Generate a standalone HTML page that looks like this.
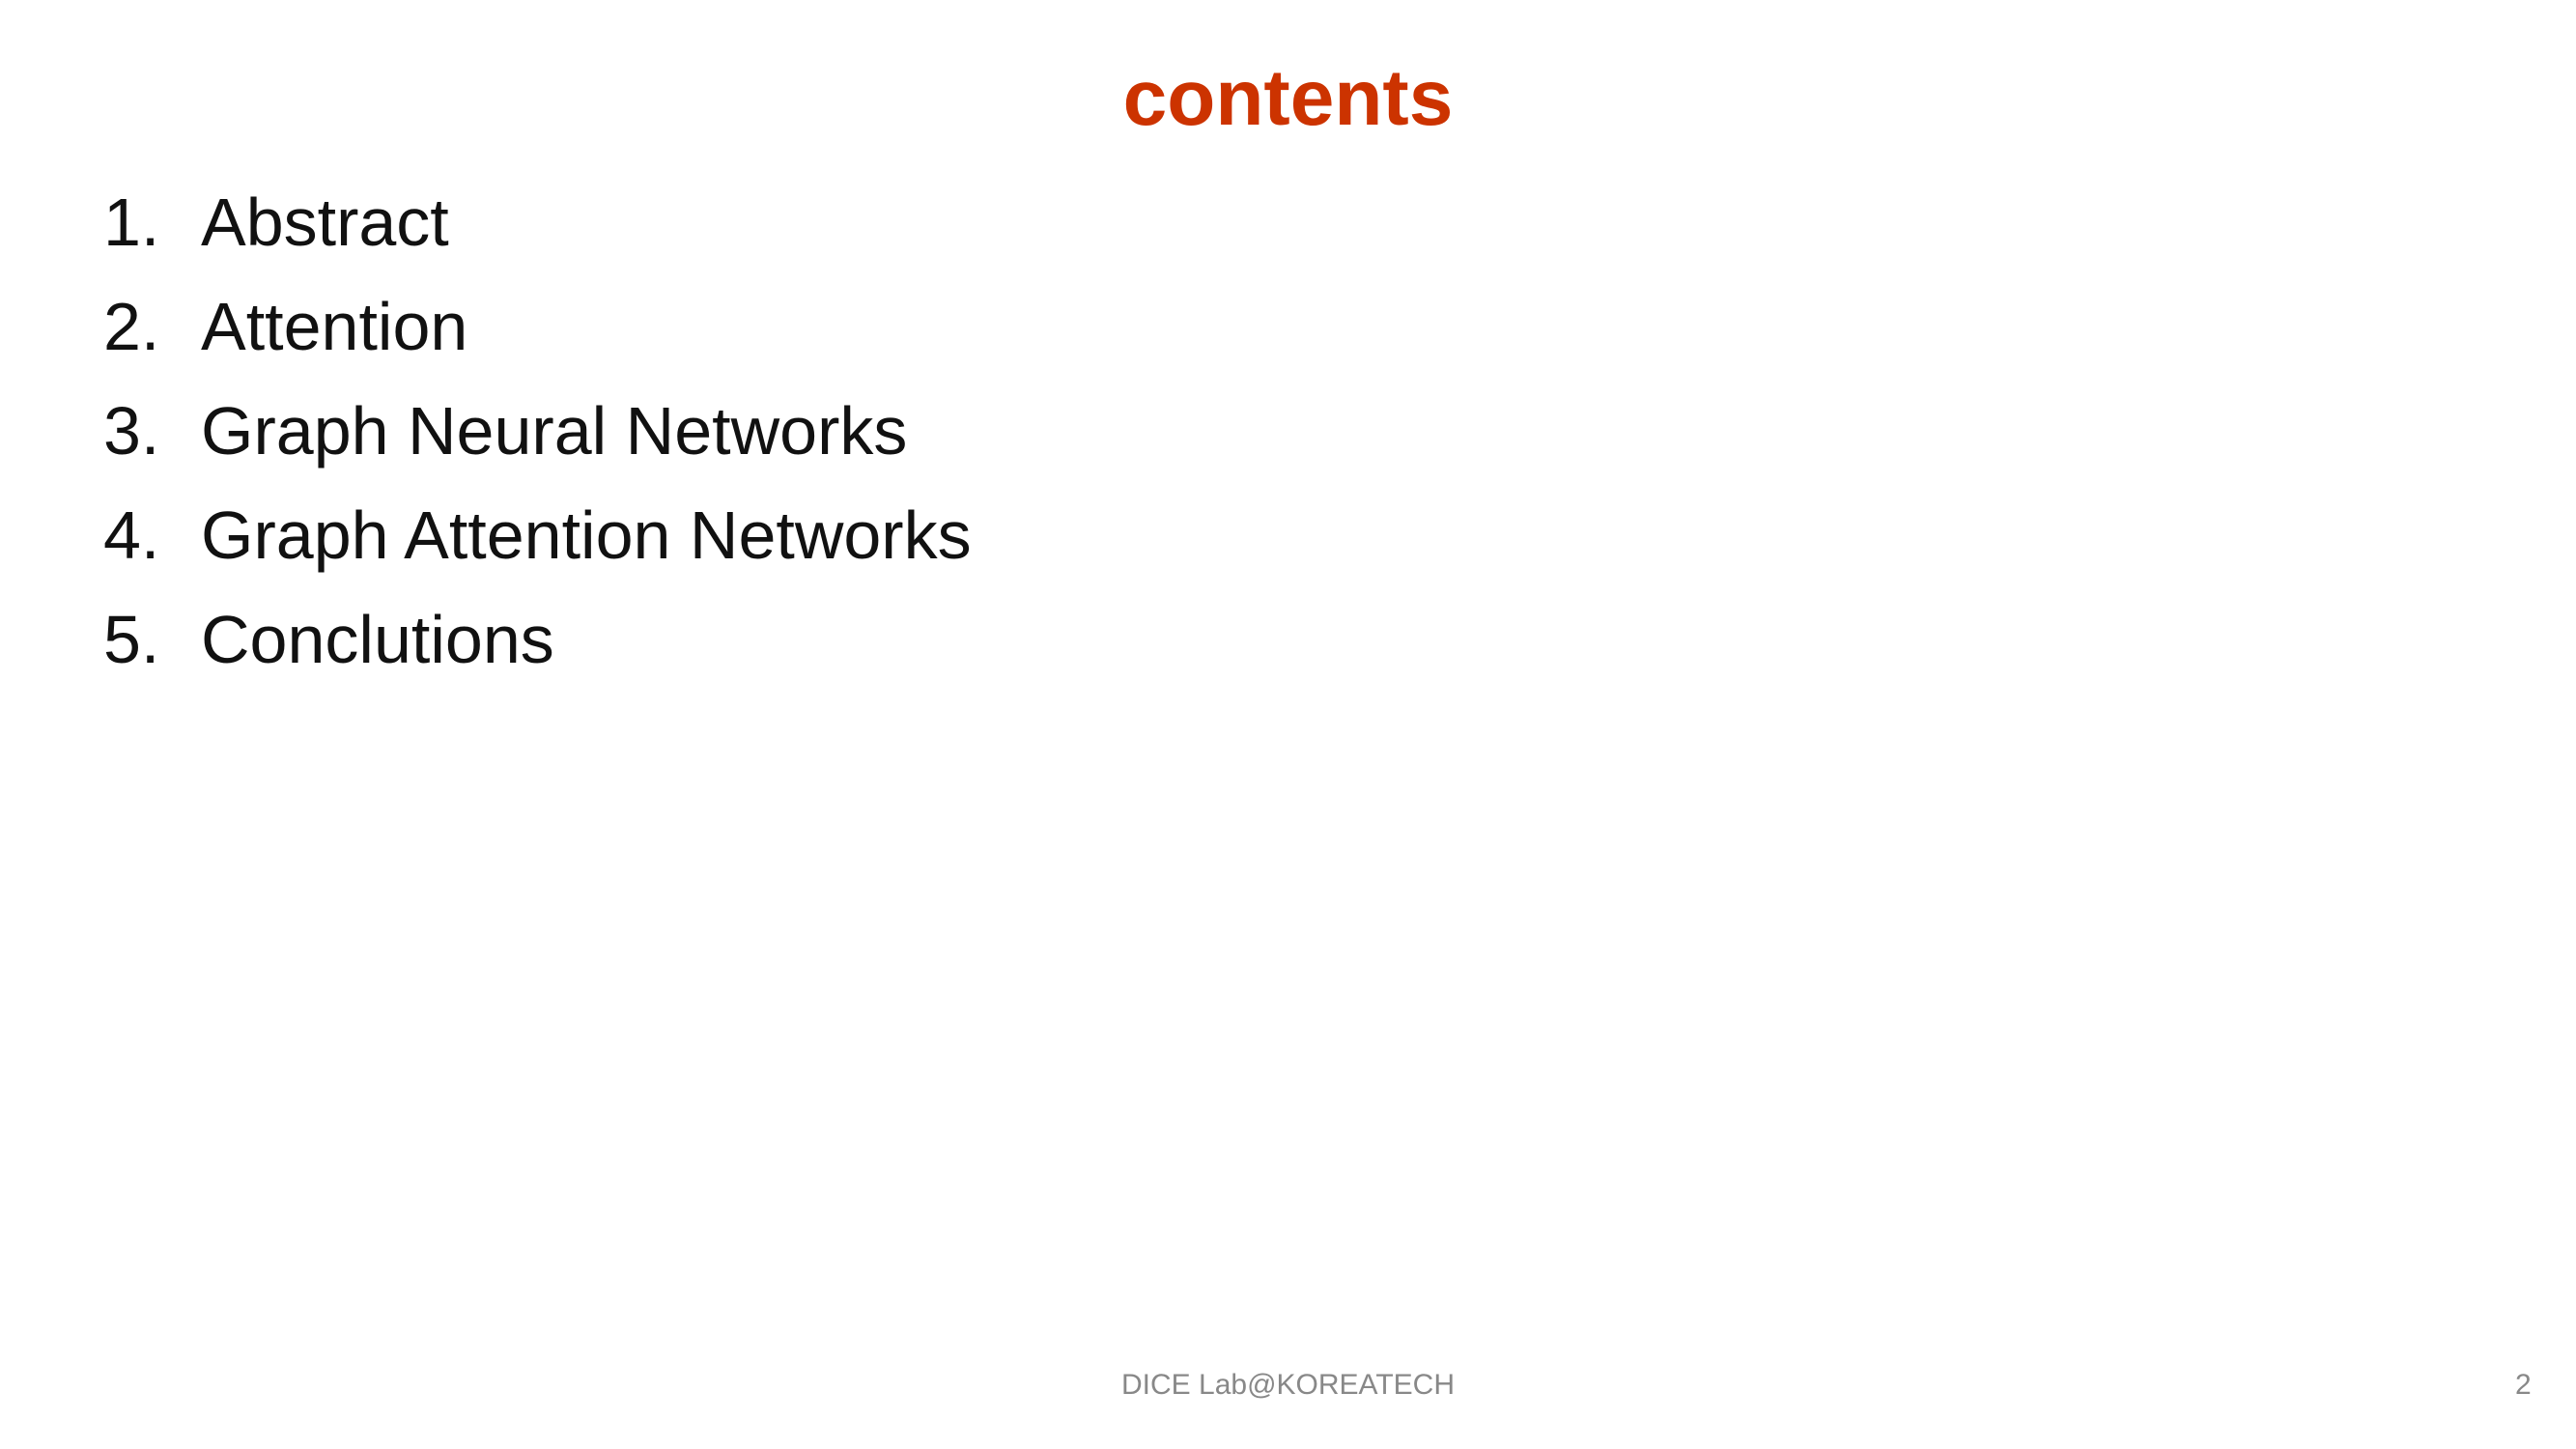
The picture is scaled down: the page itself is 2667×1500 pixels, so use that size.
<!DOCTYPE html>
<html><head><meta charset="utf-8"><style>
html,body{margin:0;padding:0;background:#fff;}
body{width:2667px;height:1500px;position:relative;overflow:hidden;font-family:"Liberation Sans","Noto Sans CJK KR",sans-serif;}
.t{position:absolute;left:0;width:2667px;text-align:center;top:52px;font-size:82px;font-weight:bold;color:#cc3300;line-height:100px;}
.li{position:absolute;font-size:70px;color:#111;line-height:80px;}
.n{position:absolute;left:107px;}
.x{position:absolute;left:208px;white-space:nowrap;}
.f{position:absolute;top:1414px;font-size:30px;color:#888;line-height:40px;}
</style></head><body>
<div class="t">contents</div>
<div class="li" style="top:190px;width:100%"><span class="n">1.</span><span class="x">Abstract</span></div>
<div class="li" style="top:298px;width:100%"><span class="n">2.</span><span class="x">Attention</span></div>
<div class="li" style="top:406px;width:100%"><span class="n">3.</span><span class="x">Graph Neural Networks</span></div>
<div class="li" style="top:514px;width:100%"><span class="n">4.</span><span class="x">Graph Attention Networks</span></div>
<div class="li" style="top:622px;width:100%"><span class="n">5.</span><span class="x">Conclutions</span></div>
<div class="f" style="left:0;width:2667px;text-align:center;">DICE Lab@KOREATECH</div>
<div class="f" style="left:2604px;">2</div>
</body></html>
